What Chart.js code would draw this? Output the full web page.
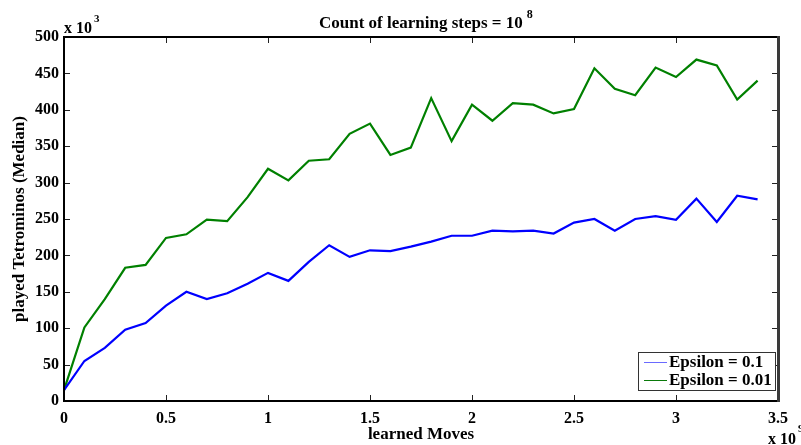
<!DOCTYPE html>
<html>
<head>
<meta charset="utf-8">
<script src="https://cdn.jsdelivr.net/npm/chart.js@4/dist/chart.umd.min.js"></script>
<style>
  html, body { margin: 0; padding: 0; background: #fff; }
  #chart { display: block; }
</style>
</head>
<body>
<canvas id="chart" width="801" height="445"></canvas>
<script>
// learned moves (x 10^9)
var learnedMoves = [0, 0.1, 0.2, 0.3, 0.4, 0.5, 0.6, 0.7, 0.8, 0.9, 1.0, 1.1, 1.2, 1.3, 1.4, 1.5, 1.6,
    1.7, 1.8, 1.9, 2.0, 2.1, 2.2, 2.3, 2.4, 2.5, 2.6, 2.7, 2.8, 2.9, 3.0, 3.1, 3.2, 3.3, 3.4];
// played tetrominos, median (x 10^3)
var epsilon01 = [15, 55, 73, 98, 107, 131, 150, 140, 148, 161, 176, 165, 191, 214, 198, 207, 206,
    212, 219, 227, 227, 234, 233, 234, 230, 245, 250, 234, 250, 254, 249, 278, 246, 282, 277];
var epsilon001 = [15, 101, 140, 183, 187, 224, 229, 249, 247, 280, 319, 303, 330, 332, 367, 381, 338,
    348, 416, 357, 407, 385, 409, 407, 395, 401, 457, 429, 420, 458, 445, 469, 461, 414, 440];
var xTicks = [0, 0.5, 1, 1.5, 2, 2.5, 3, 3.5];
var yTicks = [0, 50, 100, 150, 200, 250, 300, 350, 400, 450, 500];

var serif = "'Liberation Serif', 'Times New Roman', serif";

function toPoints(xs, ys) {
    return xs.map(function (x, i) { return { x: x, y: ys[i] }; });
}

// box, inward ticks, title, exponents and legend, matlab style
var matlabFrame = {
    id: "matlabFrame",
    afterDatasetsDraw: function (chart) {
        var ctx = chart.ctx;
        var a = chart.chartArea;
        var xs = chart.scales.x, ys = chart.scales.y;
        ctx.save();

        ctx.strokeStyle = "#222";
        ctx.lineWidth = 1;
        ctx.beginPath();
        xTicks.forEach(function (t) {
            var px = Math.round(xs.getPixelForValue(t)) + 0.5;
            ctx.moveTo(px, a.bottom); ctx.lineTo(px, a.bottom - 6);
            ctx.moveTo(px, a.top); ctx.lineTo(px, a.top + 6);
        });
        yTicks.forEach(function (t) {
            var py = Math.round(ys.getPixelForValue(t)) + 0.5;
            ctx.moveTo(a.left, py); ctx.lineTo(a.left + 6, py);
            ctx.moveTo(a.right, py); ctx.lineTo(a.right - 6, py);
        });
        ctx.stroke();

        ctx.strokeStyle = "#000";
        ctx.lineWidth = 2;
        ctx.strokeRect(a.left, a.top, a.right - a.left, a.bottom - a.top);
        ctx.strokeStyle = "#3a3a3a";
        ctx.lineWidth = 3;
        ctx.beginPath();
        ctx.moveTo(a.right + 0.5, a.top - 1); ctx.lineTo(a.right + 0.5, a.bottom + 1);
        ctx.stroke();

        // legend
        var bx = 638, by = 352, bw = 137, bh = 38;
        ctx.fillStyle = "#fff";
        ctx.fillRect(bx, by, bw, bh);
        ctx.strokeStyle = "#333";
        ctx.lineWidth = 1;
        ctx.strokeRect(bx + 0.5, by + 0.5, bw, bh);
        ctx.font = "bold 17px " + serif;
        ctx.textBaseline = "middle";
        ctx.textAlign = "left";
        var legendColors = ["#6a6aff", "#0a7a0a"];
        chart.data.datasets.forEach(function (ds, i) {
            var ly = by + 10 + i * 18;
            ctx.strokeStyle = legendColors[i];
            ctx.beginPath();
            ctx.moveTo(bx + 6, ly + 0.5); ctx.lineTo(bx + 29, ly + 0.5);
            ctx.stroke();
            ctx.fillStyle = "#000";
            ctx.fillText(ds.label, bx + 31, ly + 1);
        });

        // title
        ctx.fillStyle = "#000";
        ctx.font = "bold 17px " + serif;
        ctx.textAlign = "left";
        ctx.textBaseline = "alphabetic";
        var title = "Count of learning steps = 10";
        var tw = ctx.measureText(title).width;
        var tx = 319;
        ctx.fillText(title, tx, 28);
        ctx.font = "bold 12px " + serif;
        ctx.fillText("8", tx + tw + 4, 18);

        // exponent labels
        ctx.font = "bold 16px " + serif;
        ctx.fillText("x 10", a.left, 33);
        var ew = ctx.measureText("x 10").width;
        ctx.font = "bold 11px " + serif;
        ctx.fillText("3", a.left + ew + 2, 22);
        ctx.font = "bold 16px " + serif;
        ctx.fillText("x 10", 768, 444);
        ew = ctx.measureText("x 10").width;
        ctx.font = "bold 11px " + serif;
        ctx.fillText("9", 768 + ew + 2, 432);

        ctx.restore();
    }
};

new Chart(document.getElementById("chart"), {
    type: "line",
    data: {
        datasets: [
            {
                label: "Epsilon = 0.1",
                data: toPoints(learnedMoves, epsilon01),
                borderColor: "#0000ff",
                borderWidth: 2.2,
                pointRadius: 0,
                tension: 0,
                fill: false
            },
            {
                label: "Epsilon = 0.01",
                data: toPoints(learnedMoves, epsilon001),
                borderColor: "#008000",
                borderWidth: 2.2,
                pointRadius: 0,
                tension: 0,
                fill: false
            }
        ]
    },
    options: {
        responsive: false,
        animation: false,
        devicePixelRatio: 1,
        layout: { padding: { top: 37, right: 23, left: 0, bottom: 0 } },
        plugins: {
            legend: { display: false },
            title: { display: false },
            tooltip: { enabled: false }
        },
        scales: {
            x: {
                type: "linear",
                min: 0,
                max: 3.5,
                afterBuildTicks: function (scale) {
                    scale.ticks = xTicks.map(function (v) { return { value: v }; });
                },
                ticks: {
                    color: "#000",
                    padding: 8,
                    maxRotation: 0,
                    font: { family: serif, weight: "bold", size: 16 },
                    callback: function (v) { return String(v); }
                },
                grid: { display: false, drawTicks: false },
                border: { display: false },
                title: {
                    display: true,
                    text: "learned Moves",
                    color: "#000",
                    font: { family: serif, weight: "bold", size: 17 },
                    padding: { top: 0, bottom: 0 }
                },
                afterFit: function (scale) { scale.height = 44; }
            },
            y: {
                min: 0,
                max: 500,
                afterBuildTicks: function (scale) {
                    scale.ticks = yTicks.map(function (v) { return { value: v }; });
                },
                ticks: {
                    color: "#000",
                    padding: 5,
                    font: { family: serif, weight: "bold", size: 16 },
                    callback: function (v) { return String(v); }
                },
                grid: { display: false, drawTicks: false },
                border: { display: false },
                title: {
                    display: true,
                    text: "played Tetrominos (Median)",
                    color: "#000",
                    font: { family: serif, weight: "bold", size: 17 },
                    padding: { top: 9, bottom: 0 }
                },
                afterFit: function (scale) { scale.width = 64; }
            }
        }
    },
    plugins: [matlabFrame]
});
</script>
</body>
</html>
